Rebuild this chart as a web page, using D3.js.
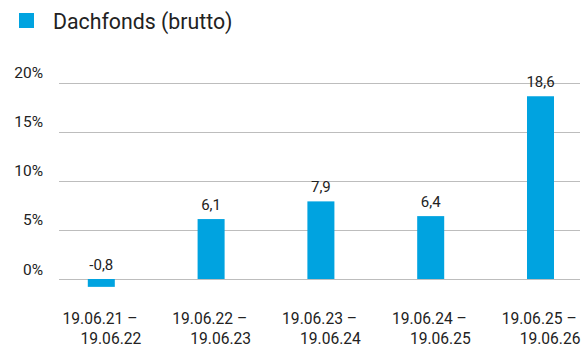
<!DOCTYPE html>
<html><head><meta charset="utf-8">
<script src="https://cdn.jsdelivr.net/npm/d3@7"></script>
<style>body{margin:0;background:#fff}svg{display:block;font-family:Roboto,sans-serif}</style>
</head><body><svg id="c" width="583" height="347"></svg>
<script>
const categoriesFrom = ["19.06.21", "19.06.22", "19.06.23", "19.06.24", "19.06.25"];
const categoriesTo = ["19.06.22", "19.06.23", "19.06.24", "19.06.25", "19.06.26"];
const values = [-0.8, 6.1, 7.9, 6.4, 18.6];
const valueLabels = ["-0,8", "6,1", "7,9", "6,4", "18,6"];
const yTicks = [0, 5, 10, 15, 20];
const seriesName = "Dachfonds (brutto)";
const color = "#00a3e0";

const svg = d3.select("#c");
const y = d3.scaleLinear().domain([0, 20]).range([279, 82.5]);
const x = d3.scaleBand().domain(categoriesFrom).range([46.4, 595.4]).paddingInner(0.754).paddingOuter(0.377);

// legend
svg.append("rect").attr("x", 19).attr("y", 13).attr("width", 15).attr("height", 15).attr("fill", color);
svg.append("text").attr("x", 53).attr("y", 28.5).attr("font-size", 21.3).attr("fill", "#222").text(seriesName);

// grid
const g = svg.append("g");
g.selectAll("line.grid").data(yTicks).join("line")
  .attr("x1", 59).attr("x2", 580)
  .attr("y1", d => Math.round(y(d)) + 0.5).attr("y2", d => Math.round(y(d)) + 0.5)
  .attr("stroke", "#bdbdbd").attr("stroke-width", 1);
g.selectAll("text.ytick").data(yTicks).join("text")
  .attr("x", 43).attr("y", d => y(d) - 4.5)
  .attr("text-anchor", "end").attr("font-size", 15.5).attr("fill", "#222")
  .text(d => d + "%");

// bars
g.selectAll("rect.bar").data(values).join("rect")
  .attr("x", (d, i) => x(categoriesFrom[i]))
  .attr("width", x.bandwidth())
  .attr("y", d => y(Math.max(0, d)))
  .attr("height", d => Math.abs(y(d) - y(0)))
  .attr("fill", color);

g.selectAll("text.val").data(values).join("text")
  .attr("x", (d, i) => x(categoriesFrom[i]) + x.bandwidth() / 2)
  .attr("y", d => y(Math.max(0, d)) - 9.5)
  .attr("text-anchor", "middle").attr("font-size", 15).attr("fill", "#222")
  .text((d, i) => valueLabels[i]);

// x labels
const xl = g.selectAll("text.xl").data(categoriesFrom).join("text")
  .attr("text-anchor", "end").attr("font-size", 15.6).attr("fill", "#222");
xl.append("tspan").attr("x", d => x(d) + x.bandwidth() / 2 + 40).attr("y", 324).text(d => d + " –\u00a0");
xl.append("tspan").attr("x", d => x(d) + x.bandwidth() / 2 + 40).attr("y", 344).text((d, i) => categoriesTo[i]);
</script></body></html>
